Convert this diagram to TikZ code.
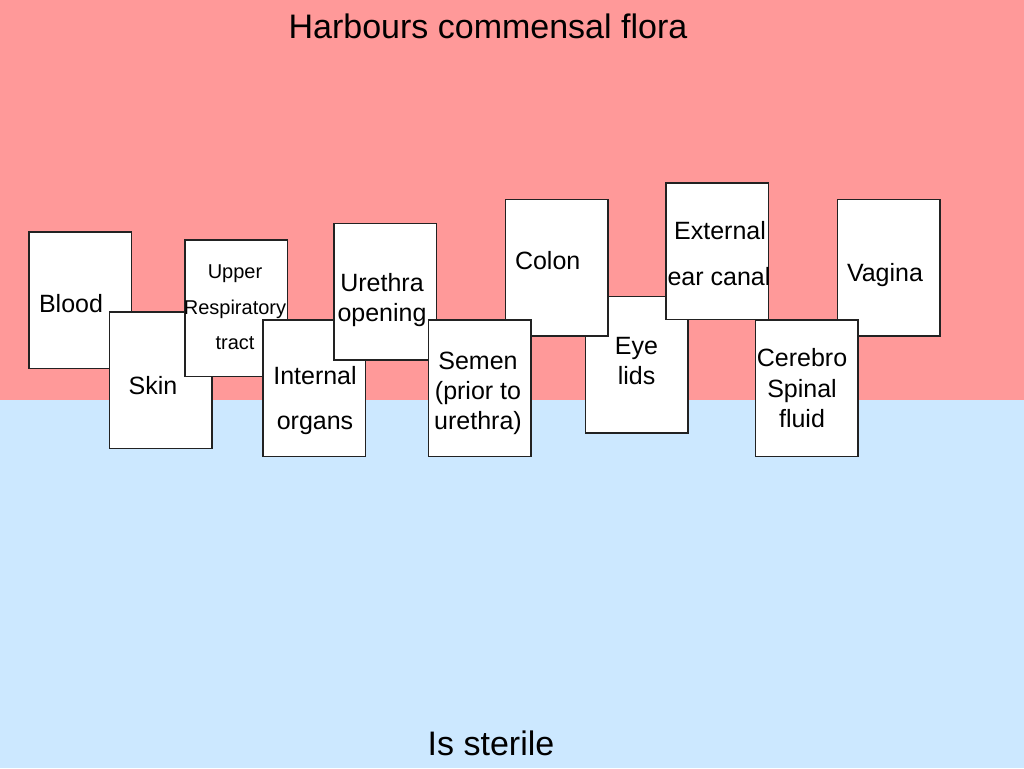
\documentclass[tikz,border=0pt]{standalone}
\usepackage{fontspec}
\setmainfont{Liberation Sans}
\definecolor{toppink}{HTML}{FF9999}
\definecolor{botblue}{HTML}{CCE8FF}
\definecolor{cardline}{HTML}{222222}
\begin{document}
\begin{tikzpicture}[x=1pt,y=-1pt,
  card/.style={draw=cardline,line width=1.6pt,fill=white,minimum width=102.5pt,minimum height=136.5pt,inner sep=0pt,anchor=north west},
  lbl/.style={font=\fontsize{25pt}{30pt}\selectfont,inner sep=0pt,text height=18pt,text depth=0pt},
  slbl/.style={font=\fontsize{20pt}{24pt}\selectfont,inner sep=0pt,text height=14.3pt,text depth=0pt},
  head/.style={font=\fontsize{34pt}{40pt}\selectfont,inner sep=0pt,text height=24.5pt,text depth=0pt}]
\useasboundingbox (0,0) rectangle (1024,768);
\fill[toppink] (0,0) rectangle (1024,400);
\fill[botblue] (0,400) rectangle (1024,768);
\node[head] (title) at (488,26) {Harbours commensal flora};
\node[head] (sterile) at (491,743) {Is sterile};
% cards, back to front
\node[card] (blood) at (28,231) {};
\node[lbl] (tblood) at (71,303) {Blood};
\node[card] (skin) at (108.5,311) {};
\node[lbl] (tskin) at (153,385) {Skin};
\node[card] (upper) at (184.3,239) {};
\node[slbl] (tupper1) at (235,271.5) {Upper};
\node[slbl] (tupper2) at (235,307) {Respiratory};
\node[slbl] (tupper3) at (235,342) {tract};
\node[card] (internal) at (262,319) {};
\node[lbl] (tint1) at (315,375) {Internal};
\node[lbl] (tint2) at (315,420) {organs};
\node[card] (urethra) at (333,222.5) {};
\node[lbl] (tur1) at (382,282) {Urethra};
\node[lbl] (tur2) at (382,312.5) {opening};
\node[card] (eye) at (584.7,295.5) {};
\node[lbl] (teye1) at (636.5,345) {Eye};
\node[lbl] (teye2) at (636.5,375) {lids};
\node[card] (colon) at (504.7,198.5) {};
\node[lbl] (tcolon) at (547.7,260) {Colon};
\node[card] (semen) at (427.7,319.3) {};
\node[lbl] (tsem1) at (478,360) {Semen};
\node[lbl] (tsem2) at (478,390) {(prior to};
\node[lbl] (tsem3) at (478,420) {urethra)};
\node[card] (ear) at (665.3,182.3) {};
\node[lbl] (tear1) at (720,230) {External};
\node[lbl] (tear2) at (719,276) {ear canal};
\node[card] (vagina) at (836.7,198.7) {};
\node[lbl] (tvag) at (885,272.5) {Vagina};
\node[card] (csf) at (754.5,319.3) {};
\node[lbl] (tcsf1) at (802,357) {Cerebro};
\node[lbl] (tcsf2) at (802,388) {Spinal};
\node[lbl] (tcsf3) at (802,418) {fluid};
\end{tikzpicture}
\end{document}
